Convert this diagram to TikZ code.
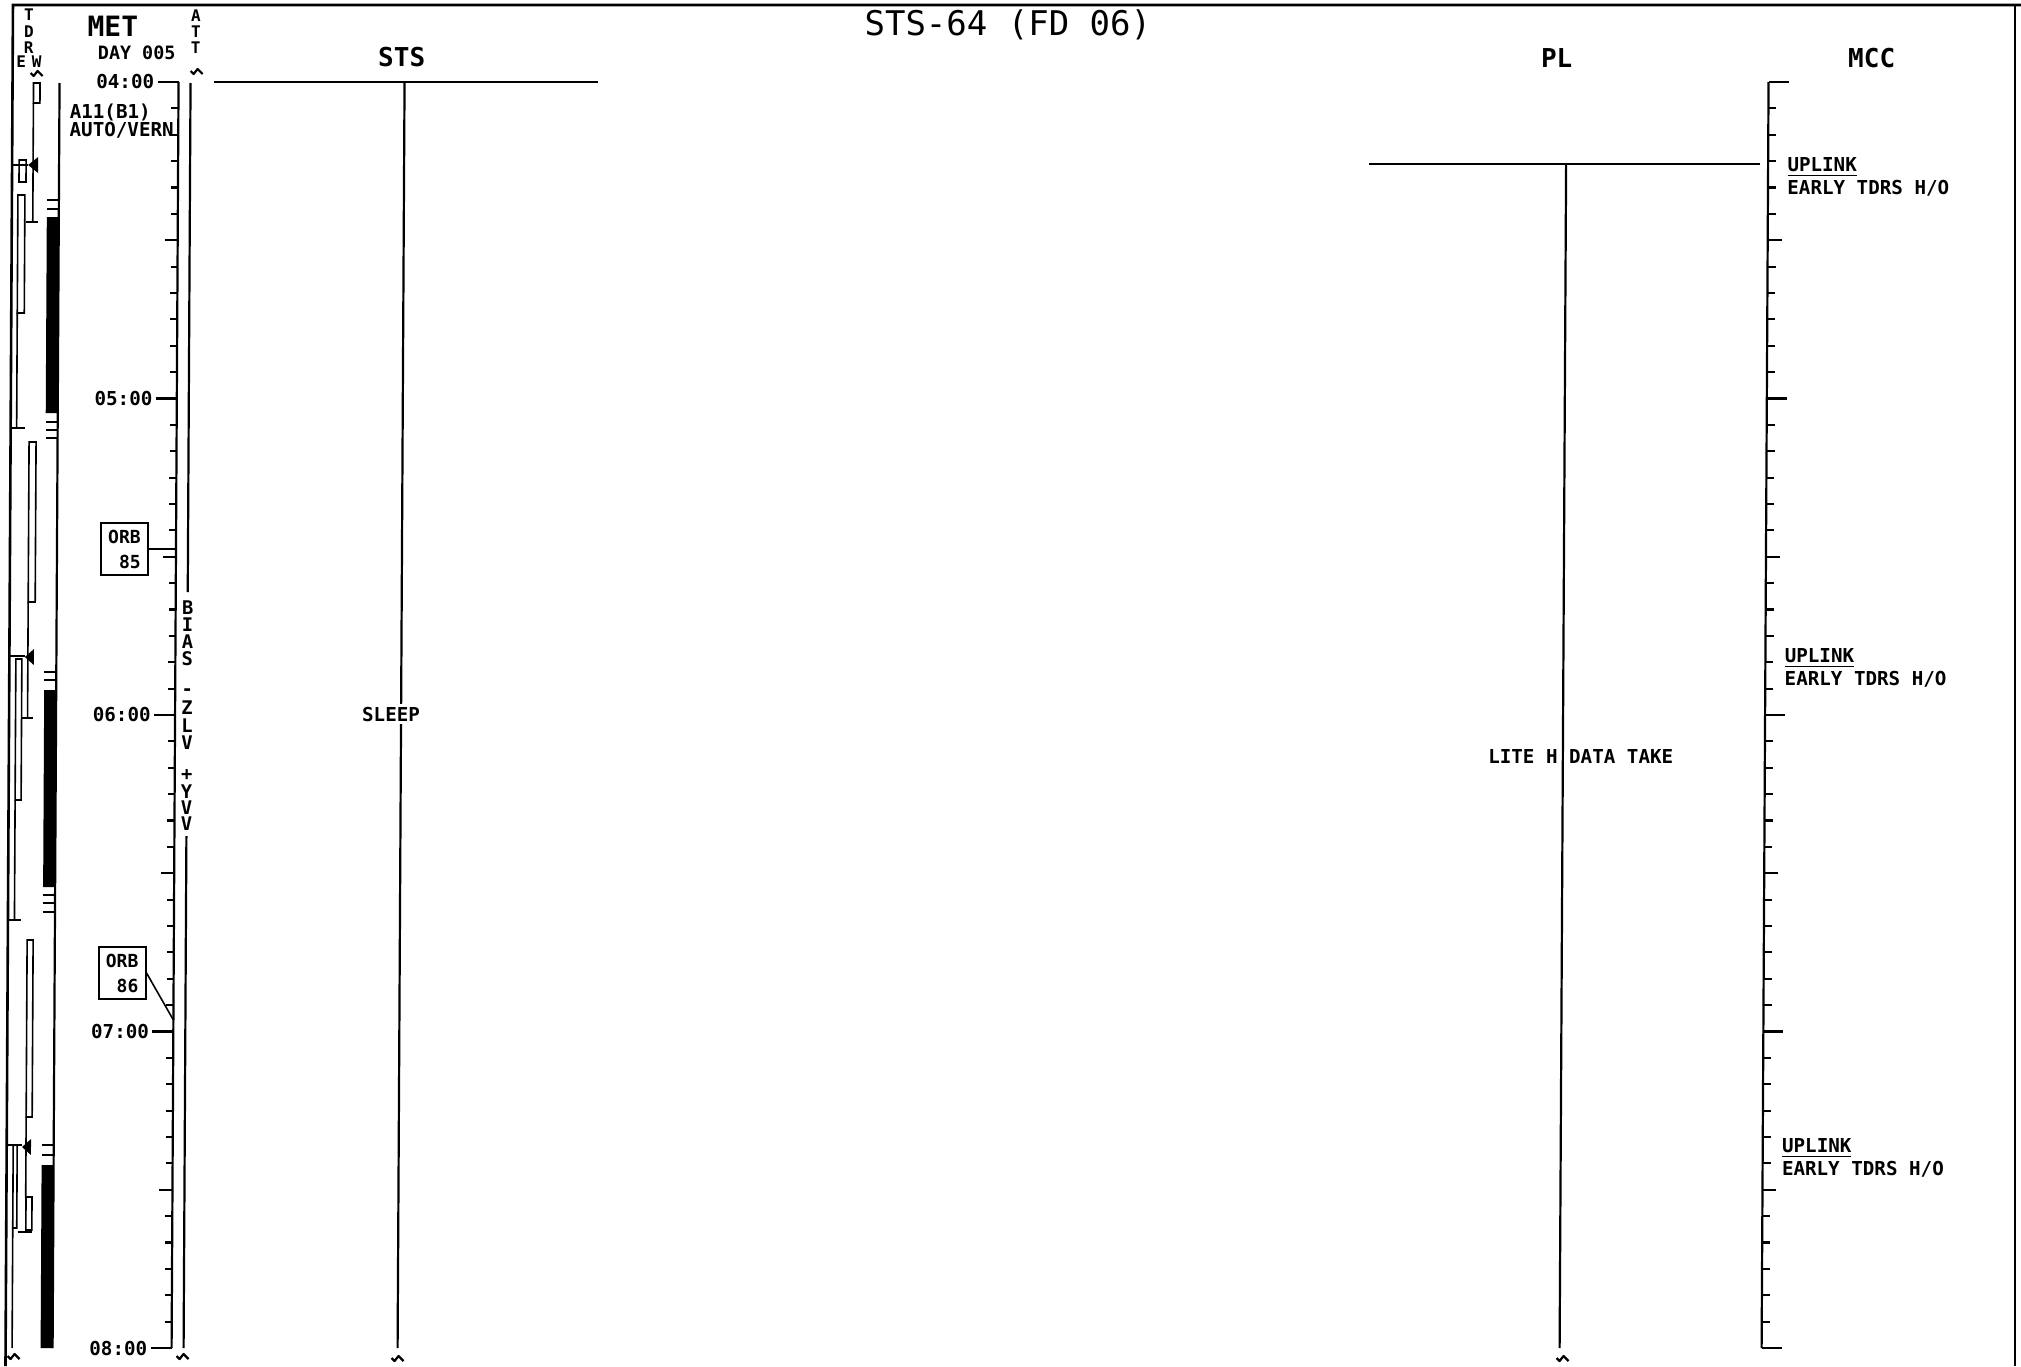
\documentclass[tikz,border=0pt]{standalone}
\usepackage{fontspec}
\newfontfamily\chartfont{DejaVu Sans Mono}
\tikzset{
  ln/.style={line width=1.1pt},
  sln/.style={line width=0.8pt},
  lbl/.style={font=\chartfont\bfseries\fontsize{9.6}{12.5}\selectfont, inner sep=0pt},
  tinylbl/.style={font=\chartfont\bfseries\fontsize{8}{8}\selectfont, inner sep=0pt},
  vlet/.style={font=\chartfont\bfseries\fontsize{9.4}{9.4}\selectfont, inner sep=0pt},
  head/.style={font=\chartfont\bfseries\fontsize{13}{14}\selectfont, inner sep=0pt},
  orbbox/.style={draw, line width=0.9pt, font=\chartfont\bfseries\fontsize{9}{12.5}\selectfont, align=right, minimum width=23.5pt, minimum height=26pt, inner sep=2pt},
  brkline/.style={line width=1.1pt, line join=round},
  brkm/.pic={\draw[brkline] (-6,-1) -- (-3,2) -- (1,-3) -- (6,2);}
}
\begin{document}
\begin{tikzpicture}[x=0.5pt,y=-0.5pt]
\useasboundingbox (0,0) rectangle (2021,1366);
\fill[white] (0,0) rectangle (2021,1366);
% right frame line
\draw[line width=1.3pt] (2015,5) -- (2015,1366);
\begin{scope}[xslant=0.0055]
% frame
\draw[line width=1.3pt] (13,1366) -- (13,5) -- (2021,5);
% title and headers
\node[font=\chartfont\fontsize{17}{17}\selectfont, inner sep=0pt] (title) at (1008,25) {STS-64 (FD 06)};
\node[head] (hsts) at (402,57) {STS};
\node[head] (hpl) at (1557,58) {PL};
\node[head] (hmcc) at (1872,58) {MCC};
\node[font=\chartfont\bfseries\fontsize{14}{14}\selectfont, inner sep=0pt] (met) at (113,26) {MET};
\node[font=\chartfont\bfseries\fontsize{9.2}{10}\selectfont, inner sep=0pt] (day) at (137,53) {DAY 005};
% TDRS letters
\node[tinylbl] (lt) at (29,15) {T};
\node[tinylbl] (ld) at (29,32) {D};
\node[tinylbl] (lr) at (29,48) {R};
\node[tinylbl] (le) at (21.5,62) {E};
\node[tinylbl] (lw) at (37,62) {W};
% ATT letters
\node[tinylbl] (aa) at (196,16) {A};
\node[tinylbl] (at1) at (196,32) {T};
\node[tinylbl] (at2) at (196,48) {T};
% break marks
\pic at (37,74) {brkm};
\pic at (197,72) {brkm};
\pic at (21,1357) {brkm};
\pic at (190,1357) {brkm};
\pic at (405,1359) {brkm};
\pic at (1570,1359) {brkm};
% MET axis and ticks, MCC axis and ticks
\draw[ln] (179,82) -- (179,1348);
\draw[ln] (1769,82) -- (1769,1348);
\foreach \i in {0,...,48}{
  \pgfmathsetmacro{\yy}{82+26.375*\i}
  \pgfmathsetmacro{\ticklen}{mod(\i,12)==0 ? 21 : (mod(\i,6)==0 ? 13 : 7)}
  \pgfmathsetmacro{\mcclen}{mod(\i,12)==0 ? 20 : (mod(\i,6)==0 ? 14 : 8)}
  \draw[ln] ({179-\ticklen},\yy) -- (179,\yy);
  \draw[ln] (1769,\yy) -- ({1769+\mcclen},\yy);
}
\node[lbl, anchor=east] (t4) at (155,82) {04:00};
\node[lbl, anchor=east] (t5) at (155,398.5) {05:00};
\node[lbl, anchor=east] (t6) at (155,715) {06:00};
\node[lbl, anchor=east] (t7) at (155,1031.5) {07:00};
\node[lbl, anchor=east] (t8) at (155,1348) {08:00};
% attitude
\node[lbl, anchor=west] (att1) at (70,112) {A11(B1)};
\node[lbl, anchor=west] (att2) at (70,130) {AUTO/VERN};
\draw[ln] (191,83) -- (191,592);
\draw[ln] (191,836) -- (191,1348);
\foreach \ch/\yy in {B/608, I/625, A/642, S/659, -/692, Z/708, L/726, V/743, +/775, Y/792, V/808, V/824}{
  \node[vlet] (v\yy) at (191,\yy) {\ch};
}
% orbit boxes
\node[orbbox] (orb85) at (127.5,549) {ORB\\85};
\coordinate (ax85) at (179,549);
\draw[sln] (orb85.east) -- (ax85);
\node[orbbox] (orb86) at (127.5,973) {ORB\\86};
\coordinate (ax86) at (179,1020);
\draw[sln] (orb86.east) -- (ax86);
% crew / TDRS strip
\draw[ln] (60,83) -- (60,1348);
\fill (48,217) rectangle (60,413);
\fill (48,690) rectangle (60,887);
\fill (48,1165) rectangle (60,1348);
\foreach \yy in {200,209,422,430,438,672,680,895,903,912,1145,1155}{
  \draw[sln] (48,\yy) -- (60,\yy);
}
% cycle 1
\draw[sln] (34,83) rectangle (40.5,103);
\draw[sln] (34,103) -- (34,222);
\draw[sln] (27,222) -- (39,222);
\fill (29,165) -- (39,157) -- (39,173) -- cycle;
\draw[sln] (13,165) -- (29,165);
\draw[sln] (20,160) rectangle (27,182);
\draw[sln] (19,195) rectangle (26,313);
\draw[sln] (19,313) -- (19,428);
\draw[sln] (13,428) -- (27,428);
% cycle 2
\draw[sln] (31.5,442) rectangle (38.5,602);
\draw[sln] (31.5,602) -- (31.5,718);
\draw[sln] (26,718) -- (37,718);
\fill (28.5,657) -- (37.5,649) -- (37.5,665) -- cycle;
\draw[sln] (13,656) -- (28.5,656);
\draw[sln] (19.5,659) rectangle (25.5,800);
\draw[sln] (19.5,800) -- (19.5,920);
\draw[sln] (13,920) -- (26,920);
% cycle 3
\draw[sln] (32.3,940) rectangle (38.3,1117);
\draw[sln] (32.3,1117) -- (32.3,1197);
\draw[sln] (32.6,1197) rectangle (38.6,1230);
\draw[sln] (25,1232) -- (39,1232);
\fill (28.3,1147) -- (37.3,1139) -- (37.3,1155) -- cycle;
\draw[sln] (13,1145) -- (28.3,1145);
\draw[sln] (19.5,1145) rectangle (23.5,1228);
\draw[sln] (19.5,1228) -- (19.5,1348);
% STS column
\coordinate (stsL) at (214,82);
\coordinate (stsR) at (598,82);
\coordinate (stsT) at (405,82);
\coordinate (stsB) at (405,1348);
\draw[ln] (stsL) -- (stsR);
\draw[ln] (stsT) -- (stsB);
\node[lbl, fill=white, inner sep=1.5pt] (sleep) at (395,714) {SLEEP};
% PL column
\coordinate (plL) at (1370,164);
\coordinate (plR) at (1761,164);
\coordinate (plT) at (1567,164);
\coordinate (plB) at (1567,1348);
\draw[ln] (plL) -- (plR);
\draw[ln] (plT) -- (plB);
\node[lbl, anchor=west] (lite) at (1492,756) {LITE H DATA TAKE};
% MCC labels
\node[lbl, anchor=west] (up1) at (1788,167) {\underline{UPLINK}};
\node[lbl, anchor=west] (ho1) at (1788,188) {EARLY TDRS H/O};
\node[lbl, anchor=west] (up2) at (1788,658) {\underline{UPLINK}};
\node[lbl, anchor=west] (ho2) at (1788,679) {EARLY TDRS H/O};
\node[lbl, anchor=west] (up3) at (1788,1148) {\underline{UPLINK}};
\node[lbl, anchor=west] (ho3) at (1788,1169) {EARLY TDRS H/O};
\end{scope}
\end{tikzpicture}
\end{document}
